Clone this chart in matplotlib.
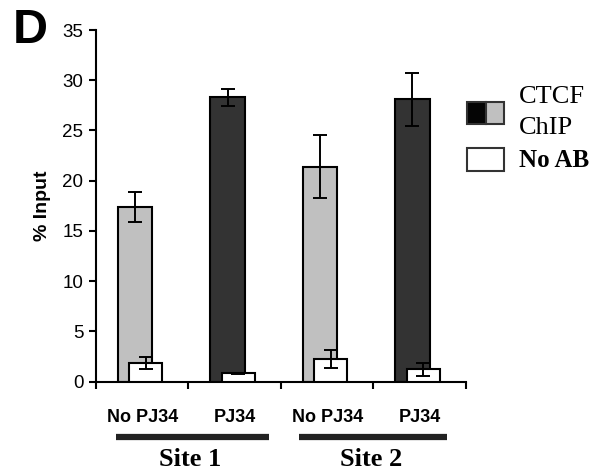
import matplotlib
matplotlib.use("Agg")
import matplotlib.pyplot as plt
from matplotlib.patches import Rectangle
import matplotlib.transforms as mtransforms

categories = ["No PJ34", "PJ34", "No PJ34", "PJ34"]
sites = ["Site 1", "Site 2"]
chip_values = [17.4, 28.3, 21.4, 28.1]
chip_errors = [1.5, 0.85, 3.15, 2.65]
noab_values = [1.85, 0.8, 2.2, 1.2]
noab_errors = [0.6, 0.08, 0.9, 0.65]
chip_colors = ["#c0c0c0", "#333333", "#c0c0c0", "#333333"]

fig = plt.figure(figsize=(6.01, 4.75), dpi=100)
ax = fig.add_axes([0.1597, 0.1968, 0.6156, 0.74])

x = list(range(len(categories)))
chip_x = [i - 0.078 for i in x]
noab_x = [i + 0.036 for i in x]

ax.bar(chip_x, chip_values, width=0.368, color=chip_colors, edgecolor="black",
       linewidth=1.5, zorder=2)
ax.errorbar(chip_x, chip_values, yerr=chip_errors, fmt="none", ecolor="black",
            elinewidth=1.4, capsize=5, capthick=1.4, zorder=3)
ax.bar(noab_x, noab_values, width=0.357, color="white", edgecolor="black",
       linewidth=1.5, zorder=4)
ax.errorbar(noab_x, noab_values, yerr=noab_errors, fmt="none", ecolor="black",
            elinewidth=1.4, capsize=5, capthick=1.4, zorder=5)

ax.set_xlim(-0.5, 3.5)
ax.set_ylim(0, 35)
ax.set_yticks(range(0, 36, 5))
ax.spines["top"].set_visible(False)
ax.spines["right"].set_visible(False)
for s in ["left", "bottom"]:
    ax.spines[s].set_linewidth(1.5)

ax.tick_params(axis="y", direction="out", length=5, width=1.5, labelsize=13.5, pad=4)
for lab in ax.get_yticklabels():
    lab.set_family("Liberation Sans")

ax.set_xticks(x)
ax.set_xticklabels(categories, fontsize=13, fontweight="bold", family="Liberation Sans")
ax.tick_params(axis="x", length=0, pad=20)
ax.set_xticks([-0.5, 0.5, 1.5, 2.5, 3.5], minor=True)
ax.tick_params(axis="x", which="minor", direction="out", length=5, width=1.5)

ax.set_ylabel("% Input", fontsize=14, fontweight="bold", family="Liberation Sans", labelpad=8)

# Site underlines and labels
trans = mtransforms.blended_transform_factory(ax.transData, ax.transAxes)
site_ranges = [(-0.284, 1.37), (1.695, 3.295)]
for (a, b), name in zip(site_ranges, sites):
    ax.plot([a, b], [-0.158, -0.158], color="#222222", linewidth=4.5,
            transform=trans, clip_on=False, solid_capstyle="butt")
    ax.text((a + b) / 2 - 0.02, -0.222, name, transform=trans, ha="center", va="center",
            fontsize=19, fontweight="bold", family="Liberation Serif")

# Legend (drawn manually)
lw = 0.05
ax.add_patch(Rectangle((1.003, 0.733), lw, 0.062, transform=ax.transAxes,
                       facecolor="#050505", edgecolor="#333333", linewidth=1.5, clip_on=False))
ax.add_patch(Rectangle((1.003 + lw, 0.733), lw, 0.062, transform=ax.transAxes,
                       facecolor="#c0c0c0", edgecolor="#333333", linewidth=1.5, clip_on=False))
ax.add_patch(Rectangle((1.003, 0.599), 2 * lw, 0.065, transform=ax.transAxes,
                       facecolor="white", edgecolor="#333333", linewidth=1.5, clip_on=False))
ax.text(1.143, 0.809, "CTCF", transform=ax.transAxes, ha="left", va="center",
        fontsize=19, family="Liberation Serif")
ax.text(1.143, 0.722, "ChIP", transform=ax.transAxes, ha="left", va="center",
        fontsize=19, family="Liberation Serif")
ax.text(1.143, 0.630, "No AB", transform=ax.transAxes, ha="left", va="center",
        fontsize=18, fontweight="bold", family="Liberation Serif")

fig.text(0.022, 0.935, "D", fontsize=35, fontweight="bold", family="Liberation Sans",
         ha="left", va="center")

fig.savefig("out.png", dpi=100)
